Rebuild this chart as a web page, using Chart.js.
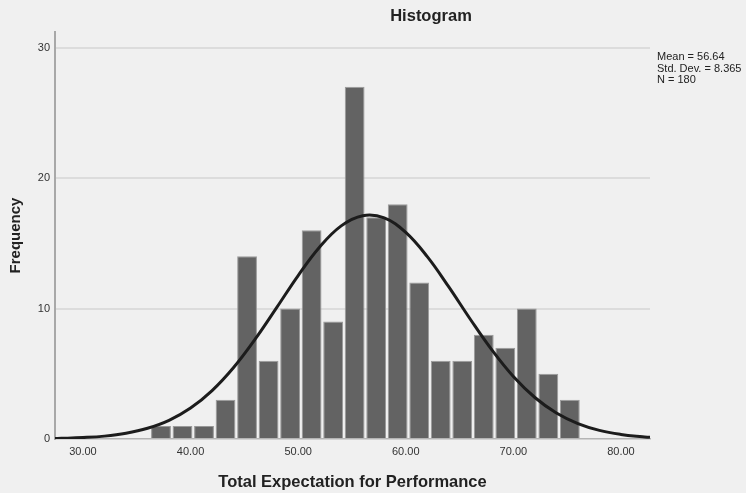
<!DOCTYPE html>
<html>
<head>
<meta charset="utf-8">
<script src="https://cdn.jsdelivr.net/npm/chart.js@4/dist/chart.umd.min.js"></script>
<style>
  html, body { margin: 0; padding: 0; background: #f0f0f0; }
  #wrap { width: 746px; height: 493px; }
</style>
</head>
<body>
<div id="wrap"><canvas id="c" width="746" height="493"></canvas></div>
<script>
// Histogram bins (centres, width 2) and frequencies
const binCenters = [37.25, 39.25, 41.25, 43.25, 45.25, 47.25, 49.25, 51.25, 53.25, 55.25,
                    57.25, 59.25, 61.25, 63.25, 65.25, 67.25, 69.25, 71.25, 73.25, 75.25];
const frequencies = [1, 1, 1, 3, 14, 6, 10, 16, 9, 27,
                     17, 18, 12, 6, 6, 8, 7, 10, 5, 3];

// Normal curve
const curveX = [27.4, 28, 30, 32, 34, 36, 38, 40, 42, 44, 46, 48, 50, 52, 54, 56,
                58, 60, 62, 64, 66, 68, 70, 72, 74, 76, 78, 80, 82, 82.7];
const curveY = [0.04, 0.05, 0.11, 0.22, 0.44, 0.82, 1.43, 2.37, 3.71, 5.48, 7.65, 10.07, 12.53, 14.72, 16.34, 17.12,
                16.95, 15.84, 13.98, 11.66, 9.18, 6.83, 4.79, 3.18, 1.99, 1.18, 0.66, 0.35, 0.17, 0.13];

const xTicks = [30, 40, 50, 60, 70, 80];
const yTicks = [0, 10, 20, 30];

const chartTitle = 'Histogram';
const xTitle = 'Total Expectation for Performance';
const yTitle = 'Frequency';
const statsLines = ['Mean = 56.64', 'Std. Dev. = 8.365', 'N = 180'];

const FONT = '"Liberation Sans", Arial, sans-serif';

const textPlugin = {
  id: 'texts',
  afterDraw(chart) {
    const ctx = chart.ctx;
    ctx.save();
    ctx.fillStyle = '#222';
    ctx.font = 'bold 16.5px ' + FONT;
    ctx.textAlign = 'center';
    ctx.textBaseline = 'middle';
    ctx.fillText(chartTitle, 431, 16);
    ctx.font = '11px ' + FONT;
    ctx.textAlign = 'left';
    statsLines.forEach((s, i) => ctx.fillText(s, 657, 57 + i * 11.5));
    ctx.restore();
  }
};

new Chart(document.getElementById('c'), {
  type: 'line',
  data: {
    datasets: [
      {
        type: 'line',
        data: curveX.map((x, i) => ({ x: x, y: curveY[i] })),
        borderColor: '#1c1c1c',
        borderWidth: 3,
        pointRadius: 0,
        tension: 0.4,
        fill: false,
        order: 0
      },
      {
        type: 'bar',
        data: binCenters.map((x, i) => ({ x: x, y: frequencies[i] })),
        backgroundColor: '#636363',
        borderColor: '#9a9a9a',
        borderWidth: 1,
        barPercentage: 1,
        categoryPercentage: 0.92,
        order: 1
      }
    ]
  },
  options: {
    responsive: false,
    animation: false,
    events: [],
    layout: { padding: { top: 32, right: 96, left: 0, bottom: 0 } },
    plugins: {
      legend: { display: false },
      title: { display: false },
      tooltip: { enabled: false }
    },
    scales: {
      x: {
        type: 'linear',
        min: 27.4,
        max: 82.7,
        offset: false,
        afterFit(scale) { scale.height = 54; },
        afterBuildTicks(scale) { scale.ticks = xTicks.map(v => ({ value: v })); },
        grid: { display: false, drawTicks: false, offset: false },
        border: { display: true, color: '#b4b4b4', width: 1.5 },
        ticks: {
          padding: 6,
          color: '#333',
          font: { size: 11, family: FONT },
          maxRotation: 0,
          autoSkip: false,
          callback: v => Number(v).toFixed(2)
        },
        title: {
          display: true,
          text: xTitle,
          color: '#222',
          font: { size: 16.5, weight: 'bold', family: FONT },
          padding: { top: 0, bottom: 1 }
        }
      },
      y: {
        type: 'linear',
        min: 0,
        max: 31.2,
        afterFit(scale) { scale.width = 55; },
        afterBuildTicks(scale) { scale.ticks = yTicks.map(v => ({ value: v })); },
        grid: {
          drawTicks: false,
          color: ctx => (ctx.tick && ctx.tick.value === 0 ? 'rgba(0,0,0,0)' : '#dcdcdc'),
          lineWidth: 2
        },
        border: { display: true, color: '#a8a8a8', width: 2 },
        ticks: {
          padding: 5,
          color: '#333',
          font: { size: 11, family: FONT },
          autoSkip: false
        },
        title: {
          display: true,
          text: yTitle,
          color: '#222',
          font: { size: 15, weight: 'bold', family: FONT },
          padding: { top: 7, bottom: 0 }
        }
      }
    }
  },
  plugins: [textPlugin]
});
</script>
</body>
</html>
